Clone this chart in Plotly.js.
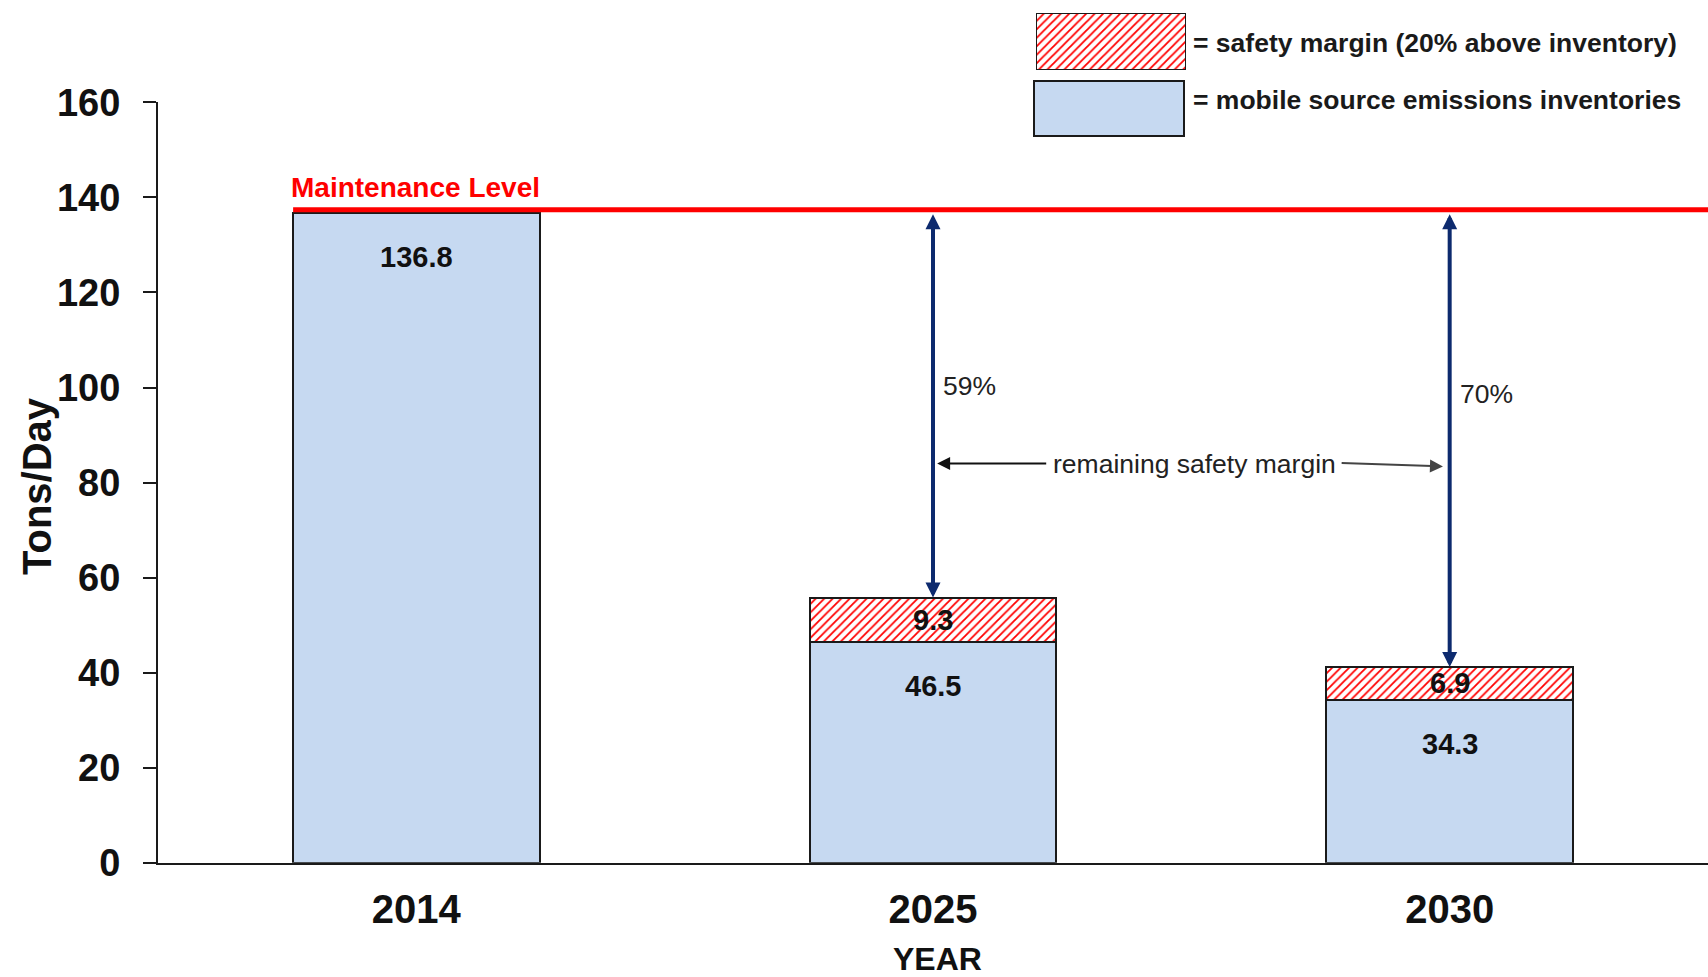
<!DOCTYPE html>
<html>
<head>
<meta charset="utf-8">
<script src="https://cdn.plot.ly/plotly-3.0.1.min.js"></script>
<style>
  html, body { margin: 0; padding: 0; background: #ffffff; }
  #chart { width: 1708px; height: 977px; }
</style>
</head>
<body>
<div id="chart"></div>
<script>
// ---- data ----
const categories = ['2014', '2025', '2030'];
const inventory = [136.8, 46.5, 34.3];
const safetyMargin = [null, 9.3, 6.9];
const remainingPct = [null, '59%', '70%'];
const maintenanceLevel = 136.8;
const yTicks = [0, 20, 40, 60, 80, 100, 120, 140, 160];
const legendLabels = ['= safety margin (20% above inventory)', '= mobile source emissions inventories'];

// ---- styles ----
const FONT = 'Liberation Sans, Arial, sans-serif';
const BLUE = '#c6d9f1';
const EDGE = '#1a1a1a';
const NAVY = '#0d2a6e';
const BAR_W = 0.477;
const W = 1708, H = 977;

const xIdx = categories.map((c, i) => i);
const totals = inventory.map((v, i) => v + (safetyMargin[i] || 0));

const hatch = { shape: '/', fgcolor: '#ff0000', bgcolor: '#ffffff', size: 6, solidity: 0.3 };

const traces = [
  {
    type: 'bar', x: xIdx, y: inventory, width: BAR_W,
    marker: { color: BLUE, line: { color: EDGE, width: 2 } },
    hoverinfo: 'skip', showlegend: false
  },
  {
    type: 'bar', x: xIdx, y: safetyMargin, width: BAR_W,
    marker: { color: '#ffffff', line: { color: EDGE, width: 2 }, pattern: hatch },
    hoverinfo: 'skip', showlegend: false
  },
  // hatched legend swatch
  {
    type: 'bar', x: [0], y: [1], width: [1], xaxis: 'x2', yaxis: 'y2', cliponaxis: false,
    marker: { color: '#ffffff', line: { color: EDGE, width: 2 }, pattern: hatch },
    hoverinfo: 'skip', showlegend: false
  }
];

const annotations = [];
const LABEL_FONT = { family: FONT, size: 29, weight: 'bold', color: '#111' };

// inventory labels
inventory.forEach((v, i) => {
  annotations.push({
    x: xIdx[i], y: v, xref: 'x', yref: 'y', yanchor: 'middle', yshift: -44,
    text: v.toFixed(1), showarrow: false, font: LABEL_FONT
  });
});
// margin labels
safetyMargin.forEach((m, i) => {
  if (m == null) return;
  annotations.push({
    x: xIdx[i], y: inventory[i] + m / 2, xref: 'x', yref: 'y', yanchor: 'middle',
    text: m.toFixed(1), showarrow: false, font: LABEL_FONT
  });
});
// Maintenance level label
annotations.push({
  x: -BAR_W / 2, y: maintenanceLevel, xref: 'x', yref: 'y', xanchor: 'left', yanchor: 'bottom', yshift: 8, xshift: -4,
  text: 'Maintenance Level', showarrow: false,
  font: { family: FONT, size: 28, weight: 'bold', color: '#ff0000' }
});
// vertical double arrows + percentages
const pctY = [null, 100.4, 98.6];
remainingPct.forEach((p, i) => {
  if (p == null) return;
  annotations.push({
    x: xIdx[i], y: totals[i], ax: xIdx[i], ay: maintenanceLevel,
    xref: 'x', yref: 'y', axref: 'x', ayref: 'y',
    showarrow: true, text: '', arrowside: 'end+start',
    arrowhead: 2, startarrowhead: 2, arrowsize: 0.75, startarrowsize: 0.75,
    arrowwidth: 4, arrowcolor: NAVY, standoff: 0, startstandoff: 0
  });
  annotations.push({
    x: xIdx[i], y: pctY[i], xref: 'x', yref: 'y', xanchor: 'left', yanchor: 'middle', xshift: 8,
    text: p, showarrow: false,
    font: { family: FONT, size: 26.5, color: '#222' }
  });
});
// remaining safety margin
annotations.push({
  x: 1.506, y: 84, xref: 'x', yref: 'y', xanchor: 'center', yanchor: 'middle',
  text: 'remaining safety margin', showarrow: false,
  font: { family: FONT, size: 26.5, color: '#222' }
});
annotations.push({
  x: 1.008, y: 84, ax: 1.222, ay: 84, xref: 'x', yref: 'y', axref: 'x', ayref: 'y',
  showarrow: true, text: '', arrowhead: 2, arrowsize: 1.3, arrowwidth: 2, arrowcolor: '#111', standoff: 0
});
annotations.push({
  x: 1.987, y: 83.4, ax: 1.788, ay: 84.1, xref: 'x', yref: 'y', axref: 'x', ayref: 'y',
  showarrow: true, text: '', arrowhead: 2, arrowsize: 1.3, arrowwidth: 2, arrowcolor: '#444', standoff: 0
});
// axis titles
annotations.push({
  x: 937 / W, y: 1 - 959 / H, xref: 'paper', yref: 'paper', xanchor: 'center', yanchor: 'middle',
  text: 'YEAR', showarrow: false, font: { family: FONT, size: 32, weight: 'bold', color: '#111' }
});
annotations.push({
  x: 37 / W, y: 1 - 486 / H, xref: 'paper', yref: 'paper', xanchor: 'center', yanchor: 'middle',
  text: 'Tons/Day', textangle: -90, showarrow: false, font: { family: FONT, size: 40, weight: 'bold', color: '#111' }
});
// legend labels
annotations.push({
  x: 1191 / W, y: 1 - 43 / H, xref: 'paper', yref: 'paper', xanchor: 'left', yanchor: 'middle',
  text: legendLabels[0], showarrow: false, font: { family: FONT, size: 26.5, weight: 'bold', color: '#1a1a1a' }
});
annotations.push({
  x: 1191 / W, y: 1 - 100 / H, xref: 'paper', yref: 'paper', xanchor: 'left', yanchor: 'middle',
  text: legendLabels[1], showarrow: false, font: { family: FONT, size: 26.5, weight: 'bold', color: '#1a1a1a' }
});

const shapes = [
  // maintenance level line
  {
    type: 'line', xref: 'x', yref: 'y', x0: -BAR_W / 2, x1: 2.5,
    ysizemode: 'pixel', yanchor: maintenanceLevel, y0: 3, y1: 3,
    line: { color: '#ff0000', width: 5 }
  },
  // blue legend swatch
  {
    type: 'rect', xref: 'paper', yref: 'paper',
    x0: 1034 / W, x1: 1184 / W, y0: 1 - 136 / H, y1: 1 - 81 / H,
    fillcolor: BLUE, line: { color: EDGE, width: 2 }
  }
];

const layout = {
  width: W, height: H,
  margin: { l: 0, r: 0, t: 0, b: 0, autoexpand: false },
  paper_bgcolor: '#ffffff', plot_bgcolor: 'rgba(0,0,0,0)',
  barmode: 'stack', showlegend: false,
  xaxis: {
    domain: [158 / W, 1], range: [-0.5, 2.5], tickvals: xIdx, ticktext: categories,
    showgrid: false, zeroline: false, showline: true, linecolor: EDGE, linewidth: 2,
    ticks: '', ticklabelstandoff: 10, fixedrange: true,
    tickfont: { family: FONT, size: 40, weight: 'bold', color: '#111' }
  },
  yaxis: {
    domain: [1 - 862.7 / H, 1 - 102.4 / H], range: [0, 160], tickvals: yTicks,
    showgrid: false, zeroline: false, showline: true, linecolor: EDGE, linewidth: 2,
    ticks: 'outside', ticklen: 13, tickwidth: 2, tickcolor: EDGE, ticklabelstandoff: 15, fixedrange: true,
    tickfont: { family: FONT, size: 38, weight: 'bold', color: '#111' }
  },
  xaxis2: { domain: [1036 / W, 1186 / W], range: [-0.5, 0.5], visible: false, fixedrange: true, anchor: 'y2' },
  yaxis2: { domain: [1 - 70 / H, 1 - 13 / H], range: [0, 1], visible: false, fixedrange: true, anchor: 'x2' },
  annotations: annotations,
  shapes: shapes
};

Plotly.newPlot('chart', traces, layout, { displayModeBar: false, staticPlot: true });
</script>
</body>
</html>
